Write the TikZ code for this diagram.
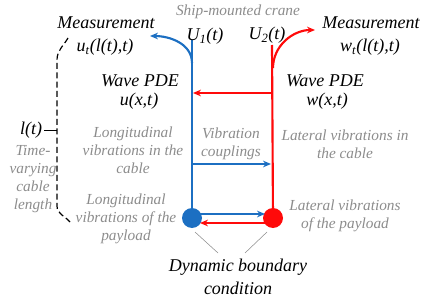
\documentclass[tikz,border=0pt]{standalone}
\usepackage{fontspec}
\setmainfont{Liberation Serif}
\newfontfamily\termsfont{Liberation Serif}
\usepackage{xcolor}
\usepackage{tikz}
\usetikzlibrary{arrows.meta,positioning,calc}
\definecolor{cableblue}{HTML}{1C6FC2}
\definecolor{cablered}{HTML}{FF0A0A}
\definecolor{notegray}{HTML}{8C8C8C}
\newcommand{\iv}[1]{\textit{#1}}

\begin{document}
\begin{tikzpicture}[x=0.75pt,y=-0.75pt,
  lbl/.style={font=\termsfont\fontsize{13.5}{17}\selectfont\itshape, inner sep=0pt, align=center},
  note/.style={font=\termsfont\fontsize{11.5}{13.5}\selectfont\itshape, text=notegray, inner sep=0pt, align=center},
  blueline/.style={draw=cableblue, line width=1.6pt},
  redline/.style={draw=cablered, line width=1.6pt},
  bluearr/.style={blueline, -{Stealth[length=6pt,width=5pt]}},
  redarr/.style={redline, -{Stealth[length=6pt,width=5pt]}},
  bluedot/.style={circle, fill=cableblue, minimum size=15pt, inner sep=0pt},
  reddot/.style={circle, fill=cablered, minimum size=15pt, inner sep=0pt},
  pointer/.style={draw=notegray, line width=0.4pt}]
\useasboundingbox (0,0) rectangle (436,307);

% cable ends
\coordinate (btop) at (192,40);
\coordinate (rtop) at (272,45);
\node[bluedot] (bdot) at (192,218) {};
\node[reddot] (rdot) at (273,218) {};
\draw[blueline] (btop) -- (bdot.center);
\draw[redline] (rtop) -- (rdot.center);

% crane and inputs
\node[note] (crane) at (238,12) {Ship-mounted crane};
\node[lbl] (U1) at (205,36) {\iv{U}\textsubscript{1}(\iv{t})};
\node[lbl] (U2) at (267,35) {\iv{U}\textsubscript{2}(\iv{t})};

% measurements
\node[lbl] (measL) at (106,23) {Measurement};
\node[lbl] (utL) at (105,47) {\iv{u}\textsubscript{\iv{t}}(\iv{l}(\iv{t}),\iv{t})};
\node[lbl] (measR) at (371,23) {Measurement};
\node[lbl] (wtR) at (370,47) {\iv{w}\textsubscript{\iv{t}}(\iv{l}(\iv{t}),\iv{t})};
\coordinate (bout) at (192,63);
\coordinate (rout) at (273,68);
\draw[bluearr] (bout) to[out=90,in=0] (150,36);
\draw[redarr] (rout) to[out=90,in=180] (315,30);

% wave PDEs
\node[lbl] (pdeL) at (140,81) {Wave PDE};
\node[lbl] (uxt) at (139,101) {\iv{u}(\iv{x},\iv{t})};
\node[lbl] (pdeR) at (325,81) {Wave PDE};
\node[lbl] (wxt) at (327,101) {\iv{w}(\iv{x},\iv{t})};

% couplings
\coordinate (rc1) at (272,93);
\coordinate (bc1) at (193,93);
\coordinate (bc2) at (192,164);
\coordinate (rc2) at (271,164);
\draw[redarr] (rc1) -- (bc1);
\draw[bluearr] (bc2) -- (rc2);
\draw[bluearr] ($(bdot.center)+(7,-4)$) -- ($(rdot.center)+(-8,-4)$);
\draw[redarr] ($(rdot.center)+(-7,5)$) -- ($(bdot.center)+(8,5)$);

% descriptions
\node[note] (cableL) at (133,150) {Longitudinal\\vibrations in the\\cable};
\node[note] (coupl) at (231,144) {Vibration\\couplings};
\node[note] (cableR) at (345,144) {Lateral vibrations in\\the cable};
\node[note] (loadL) at (126,219) {Longitudinal\\vibrations of the\\payload};
\node[note] (loadR) at (345,216) {Lateral vibrations\\of the payload};

% cable length
\node[lbl] (lt) at (31,130) {\iv{l}(\iv{t})};
\node[note] (tvl) at (33,179) {Time-\\varying\\cable\\length};
\coordinate (dtop) at (68,38);
\coordinate (dbot) at (70,222);
\draw[dash pattern=on 4.5pt off 2.5pt, line width=0.9pt] (dtop) to[out=240,in=90] (57,60) -- (57,206) to[out=-90,in=130] (dbot);
\draw[line width=0.6pt] (lt.east) ++(2,0) -- (57,130);

% boundary condition
\node[lbl] (dbc) at (238,277) {Dynamic boundary\\condition};
\draw[pointer] (195,232) -- (218,253);
\draw[pointer] (267,232) -- (245,253);
\end{tikzpicture}
\end{document}
